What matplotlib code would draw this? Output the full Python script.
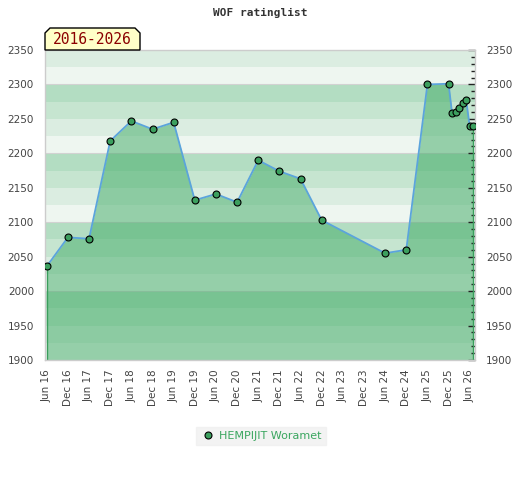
import matplotlib
matplotlib.use('Agg')
import matplotlib.pyplot as plt
from matplotlib.patches import Polygon
from matplotlib.lines import Line2D
from matplotlib.ticker import MultipleLocator

# rating list dates (year-month) and ratings
dates = ["2016-06", "2016-12", "2017-06", "2017-12", "2018-06", "2018-12",
         "2019-06", "2019-12", "2020-06", "2020-12", "2021-06", "2021-12",
         "2022-06", "2022-12", "2024-06", "2024-12", "2025-06", "2025-12",
         "2026-01", "2026-02", "2026-03", "2026-04", "2026-05", "2026-06",
         "2026-07"]
ratings = [2036, 2078, 2076, 2218, 2247, 2235,
           2245, 2132, 2141, 2129, 2190, 2174,
           2163, 2103, 2055, 2060, 2300, 2301,
           2258, 2260, 2266, 2273, 2277, 2239,
           2240]
tick_labels = ["Jun 16", "Dec 16", "Jun 17", "Dec 17", "Jun 18", "Dec 18",
               "Jun 19", "Dec 19", "Jun 20", "Dec 20", "Jun 21", "Dec 21",
               "Jun 22", "Dec 22", "Jun 23", "Dec 23", "Jun 24", "Dec 24",
               "Jun 25", "Dec 25", "Jun 26"]
player = "HEMPIJIT Woramet"
period = "2016-2026"
title = "WOF ratinglist"

y0, y1 = 1900, 2350


def month_index(s):
    y, m = s.split("-")
    return (int(y) - 2016) * 12 + int(m) - 6


x = [month_index(d) for d in dates]

fig = plt.figure(figsize=(5.2, 4.8), dpi=100)
ax = fig.add_axes([45 / 520, 1 - 360 / 480, 430 / 520, 310 / 480])

# striped background, 4 shades per 100 points
band_colors = ["#eef6f0", "#dbede1", "#c6e5d0", "#b3ddc2"]
for i, lo in enumerate(range(y0, y1, 25)):
    ax.axhspan(lo, lo + 25, color=band_colors[(lo // 25) % 4], lw=0, zorder=0)
for v in range(y0, y1 + 1, 100):
    ax.axhline(v, color="#d2d2d2", lw=0.8, zorder=0.5)

ax.fill_between(x, ratings, y0, color="#3eaa64", alpha=0.5, lw=0, zorder=1)
ax.vlines([x[0], x[-1]], y0, [ratings[0], ratings[-1]], color="#3a9e5c", lw=1, zorder=2)
ax.plot(x, ratings, color="#5ba4dc", lw=1.3, zorder=3)
ax.plot(x, ratings, ls="none", marker="o", ms=5, mfc="#3c9f5e", mec="black",
        mew=0.8, zorder=4)

ax.set_xlim(-0.5, 121.5)
ax.set_ylim(y0, y1)
ax.set_xticks(range(0, 121, 6))
ax.set_xticklabels(tick_labels, rotation=90, fontsize=7.5, color="#444444")
ax.tick_params(axis="x", length=0, pad=7)

ax.yaxis.set_major_locator(MultipleLocator(50))
ax.yaxis.set_minor_locator(MultipleLocator(10))
ax.tick_params(axis="y", which="both", left=False, right=True,
               labelleft=True, labelright=True, direction="in",
               labelsize=7.5, pad=8)
ax.tick_params(axis="y", which="major", length=5, width=1, color="#222222")
ax.tick_params(axis="y", which="minor", length=3, width=1, color="#222222")
for lab in ax.get_yticklabels():
    lab.set_color("#444444")

for sp in ax.spines.values():
    sp.set_color("#cccccc")
    sp.set_linewidth(1)

fig.text(0.5, 1 - 13 / 480, title, ha="center", va="center",
         family="DejaVu Sans Mono", fontweight="bold", fontsize=8, color="#333333")

# period label box with cut top corners
W, H = 520.0, 480.0
pts = [(45, 50), (45, 33), (50, 28), (135, 28), (140, 33), (140, 50)]
box = Polygon([(px / W, 1 - py / H) for px, py in pts], closed=True,
              facecolor="#ffffc8", edgecolor="black", lw=1,
              transform=fig.transFigure, zorder=5)
fig.patches.append(box)
fig.text(92.5 / W, 1 - 40 / H, period, ha="center", va="center",
         family="DejaVu Sans Mono", fontsize=10.5, color="#8b0000", zorder=6)

handle = Line2D([], [], ls="none", marker="o", ms=5, mfc="#3c9f5e", mec="black", mew=0.8)
leg = fig.legend([handle], [player], loc="center", bbox_to_anchor=(261 / W, 1 - 436 / H),
                 frameon=True, fontsize=8, handletextpad=0.4, borderpad=0.4,
                 handlelength=1.2, fancybox=False)
leg.get_frame().set_facecolor("#f0f0f0")
leg.get_frame().set_edgecolor("#f0f0f0")
for t in leg.get_texts():
    t.set_color("#3aa65f")

fig.savefig("out.png", dpi=100)
